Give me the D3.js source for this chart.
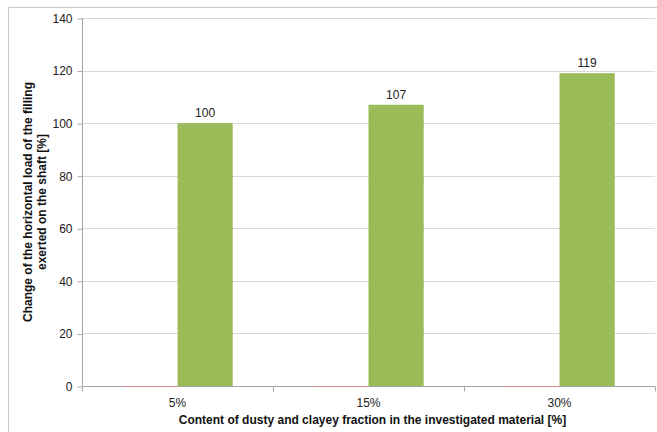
<!DOCTYPE html>
<html><head><meta charset="utf-8">
<script src="https://cdn.jsdelivr.net/npm/d3@7"></script>
<style>
html,body{margin:0;padding:0;background:#fff;}
svg{display:block;font-family:"Liberation Sans",Arial,sans-serif;}
</style></head>
<body>
<svg id="c" width="657" height="432"></svg>
<script>
const categories = ["5%", "15%", "30%"];
const seriesNames = ["Reference", "Horizontal load"];
const referenceValues = [0, 0, 0];
const loadValues = [100, 107, 119];
const yTicks = [0, 20, 40, 60, 80, 100, 120, 140];
const xTitle = "Content of dusty and clayey  fraction in the investigated material [%]";
const yTitleLines = ["Change of the horizontal load of the filling", "exerted on the shaft [%]"];

(function () {
const svg = d3.select("#c");
const W = 657, H = 432;
const pLeft = 82, pRight = 655, pTop = 18, pBottom = 386;

// outer border
svg.append("path").attr("d", `M8.5,${H} V7.5 H${W}`).attr("fill","none").attr("stroke","#c8c8c8").attr("stroke-width",1);

const x = d3.scaleBand().domain(categories).range([pLeft, pRight]).padding(0);
const xs = d3.scaleBand().domain(seriesNames).range([0, x.bandwidth()]).paddingInner(0).paddingOuter(0.73);
const y = d3.scaleLinear().domain([0, 140]).range([pBottom, pTop]);

// gridlines
svg.append("g").selectAll("line").data(yTicks.filter(d => d > 0)).join("line")
  .attr("x1", pLeft).attr("x2", pRight)
  .attr("y1", d => Math.round(y(d)) + 0.5).attr("y2", d => Math.round(y(d)) + 0.5)
  .attr("stroke", "#d9d9d9").attr("stroke-width", 1);

// y axis
const yAxis = svg.append("g").attr("transform", `translate(${pLeft + 0.5},0.5)`)
  .call(d3.axisLeft(y).tickValues(yTicks).tickSize(5).tickPadding(5));
yAxis.select(".domain").attr("stroke", "#a6a6a6").attr("d", `M-0,${pTop}V${pBottom}`);
yAxis.selectAll(".tick line").attr("stroke", "#a6a6a6");
yAxis.selectAll(".tick text").attr("fill", "#222").style("font-size", "12px").style("font-family", "Liberation Sans, Arial, sans-serif");

// x axis
const xAxis = svg.append("g").attr("transform", `translate(0,${pBottom + 0.5})`);
xAxis.append("line").attr("x1", pLeft).attr("x2", pRight).attr("stroke", "#a6a6a6");
const bounds = categories.map(c => x(c)).concat([x(categories[categories.length - 1]) + x.bandwidth()]);
xAxis.selectAll("line.tk").data(bounds).join("line").attr("class","tk")
  .attr("x1", d => Math.round(d) + 0.5).attr("x2", d => Math.round(d) + 0.5)
  .attr("y1", 0).attr("y2", 5).attr("stroke", "#a6a6a6");
xAxis.selectAll("text").data(categories).join("text")
  .attr("x", d => x(d) + x.bandwidth() / 2).attr("y", 20)
  .attr("text-anchor", "middle").attr("fill", "#222").style("font-size", "12px").text(d => d);

// bars
const g = svg.append("g");
const rows = categories.map((c, i) => ({c, vals: [referenceValues[i], loadValues[i]]}));
const colors = ["#d08a88", "#9bbb59"];
rows.forEach(r => {
  r.vals.forEach((v, j) => {
    const bx = x(r.c) + xs(seriesNames[j]);
    const h = y(0) - y(v);
    g.append("rect")
      .attr("x", bx).attr("width", xs.bandwidth())
      .attr("y", h > 0 ? y(v) : y(0)).attr("height", Math.max(h, 1))
      .attr("fill", colors[j]);
  });
  g.append("text")
    .attr("x", x(r.c) + xs(seriesNames[1]) + xs.bandwidth() / 2)
    .attr("y", y(r.vals[1]) - 6)
    .attr("text-anchor", "middle").attr("fill", "#222").style("font-size", "12px")
    .text(r.vals[1]);
});

// axis titles
svg.append("text").attr("x", (pLeft + pRight) / 2 + 4).attr("y", 424)
  .attr("text-anchor", "middle").attr("fill", "#111").style("font-size", "12px").style("font-weight", "bold")
  .text(xTitle);
const yt = svg.append("text").attr("transform", `translate(32,202) rotate(-90)`)
  .attr("text-anchor", "middle").attr("fill", "#111").style("font-size", "12px").style("font-weight", "bold");
yTitleLines.forEach((t, i) => yt.append("tspan").attr("x", 0).attr("dy", i === 0 ? 0 : 14).text(t));
})();
</script>
</body></html>
